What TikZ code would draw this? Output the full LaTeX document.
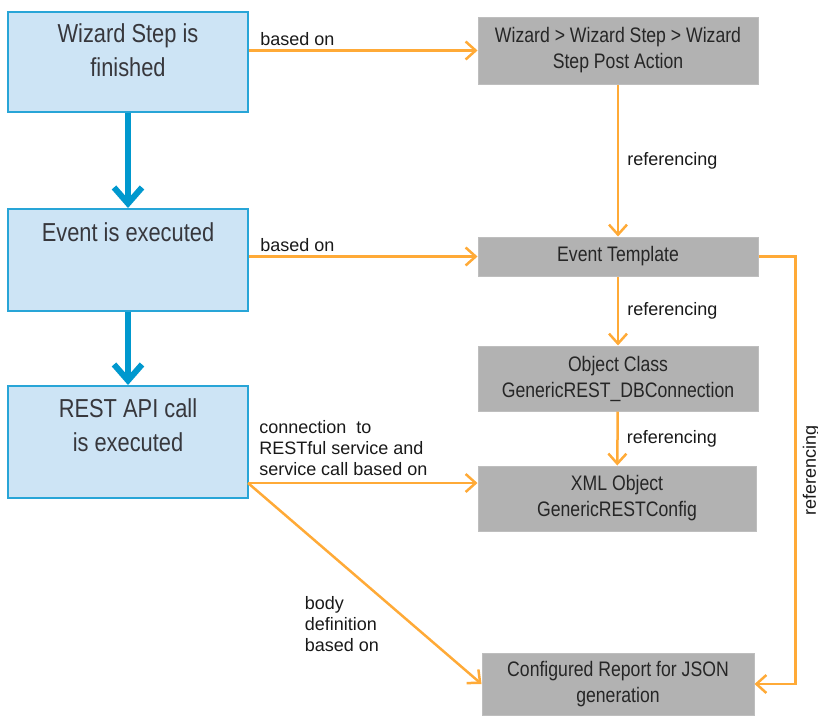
\documentclass[tikz,border=0pt]{standalone}
\usepackage{fontspec}
\setmainfont{Liberation Sans}
\newfontfamily\boxfont[FakeStretch=0.84]{Liberation Sans}
\usetikzlibrary{positioning}
\usetikzlibrary{calc}
\usetikzlibrary{arrows.meta}
\definecolor{stepblue}{RGB}{205,228,245}
\definecolor{stepedge}{RGB}{40,165,215}
\definecolor{flowblue}{RGB}{0,152,206}
\definecolor{objgray}{RGB}{178,178,178}
\definecolor{refline}{RGB}{255,170,55}
\definecolor{boxtext}{RGB}{55,55,60}

\begin{document}
\begin{tikzpicture}[
    x=1pt, y=-1pt,
    stepbox/.style={rectangle, draw=stepedge, line width=2pt, fill=stepblue,
        minimum width=240pt},
    steptext/.style={align=center, text=boxtext,
        font=\boxfont\fontsize{26}{34}\selectfont},
    objbox/.style={rectangle, fill=objgray, draw=objgray!85!white, line width=1pt,
        align=center, text=black!85, font=\boxfont\fontsize{21}{26}\selectfont},
    flow/.style={line width=6pt, draw=flowblue,
        -{Straight Barb[length=16pt,width=28pt,line width=6pt]}},
    ref/.style={line width=2.5pt, draw=refline,
        -{Straight Barb[length=10pt,width=18pt,line width=2.5pt]}},
    lbl/.style={font=\fontsize{18}{21}\selectfont, text=black!90, align=left}
]
    \useasboundingbox (0,0) rectangle (818,715);

    % process steps on the left
    \node[stepbox, minimum height=100pt] (w1) at (128,62) {};
    \node[stepbox, minimum height=102pt] (w2) at (128,260) {};
    \node[stepbox, minimum height=112pt] (w3) at (128,442) {};
    \node[steptext] (w1t) at (128,50) {Wizard Step is\\finished};
    \node[steptext] (w2t) at (128,232) {Event is executed};
    \node[steptext] (w3t) at (128,425) {REST API call\\is executed};

    % configuration objects on the right
    \node[objbox, minimum width=280pt, minimum height=67pt] (g1) at (618,50.5)
        {Wizard > Wizard Step > Wizard\\Step Post Action};
    \node[objbox, minimum width=280pt, minimum height=39pt] (g2) at (618,256.5)
        {Event Template};
    \node[objbox, minimum width=280pt, minimum height=65pt] (g3) at (618,378.5)
        {Object Class\\GenericREST\_DBConnection};
    \node[objbox, minimum width=278pt, minimum height=65pt] (g4) at (617,498.5)
        {XML Object\\GenericRESTConfig};
    \node[objbox, minimum width=272pt, minimum height=62pt] (g5) at (618,684)
        {Configured Report for JSON\\generation};

    \coordinate (rc) at (248,483);

    \draw[flow] (w1) -- (w2);
    \draw[flow] (w2) -- (w3);

    \draw[ref] (w1.east |- g1.west) -- node[lbl, pos=0, anchor=south west, inner xsep=10pt]
        {based on} (g1.west);
    \draw[ref] (w2.east |- g2.west) -- node[lbl, pos=0, anchor=south west, inner xsep=10pt]
        {based on} (g2.west);
    \draw[ref] (rc) -- node[lbl, pos=0, anchor=south west, inner xsep=10pt, inner ysep=6pt]
        {connection\ \ to\\RESTful service and\\service call based on} (rc -| g4.west);
    \draw[ref] (rc) -- node[lbl, pos=0.7, anchor=east, xshift=-28pt]
        {body\\definition\\based on} (g5.west);

    \draw[ref] (g1) -- node[lbl, right, inner xsep=8pt] {referencing} (g2);
    \draw[ref] (g2) -- node[lbl, right, inner xsep=8pt] {referencing} (g3);
    \draw[ref] (g3) -- node[lbl, right, inner xsep=8pt] {referencing} (g4);
    \draw[ref] (g2.east) -- ++(37,0) |- node[lbl, pos=0.25, rotate=90, anchor=north, inner ysep=6pt]
        {referencing} (g5.east);
\end{tikzpicture}
\end{document}
